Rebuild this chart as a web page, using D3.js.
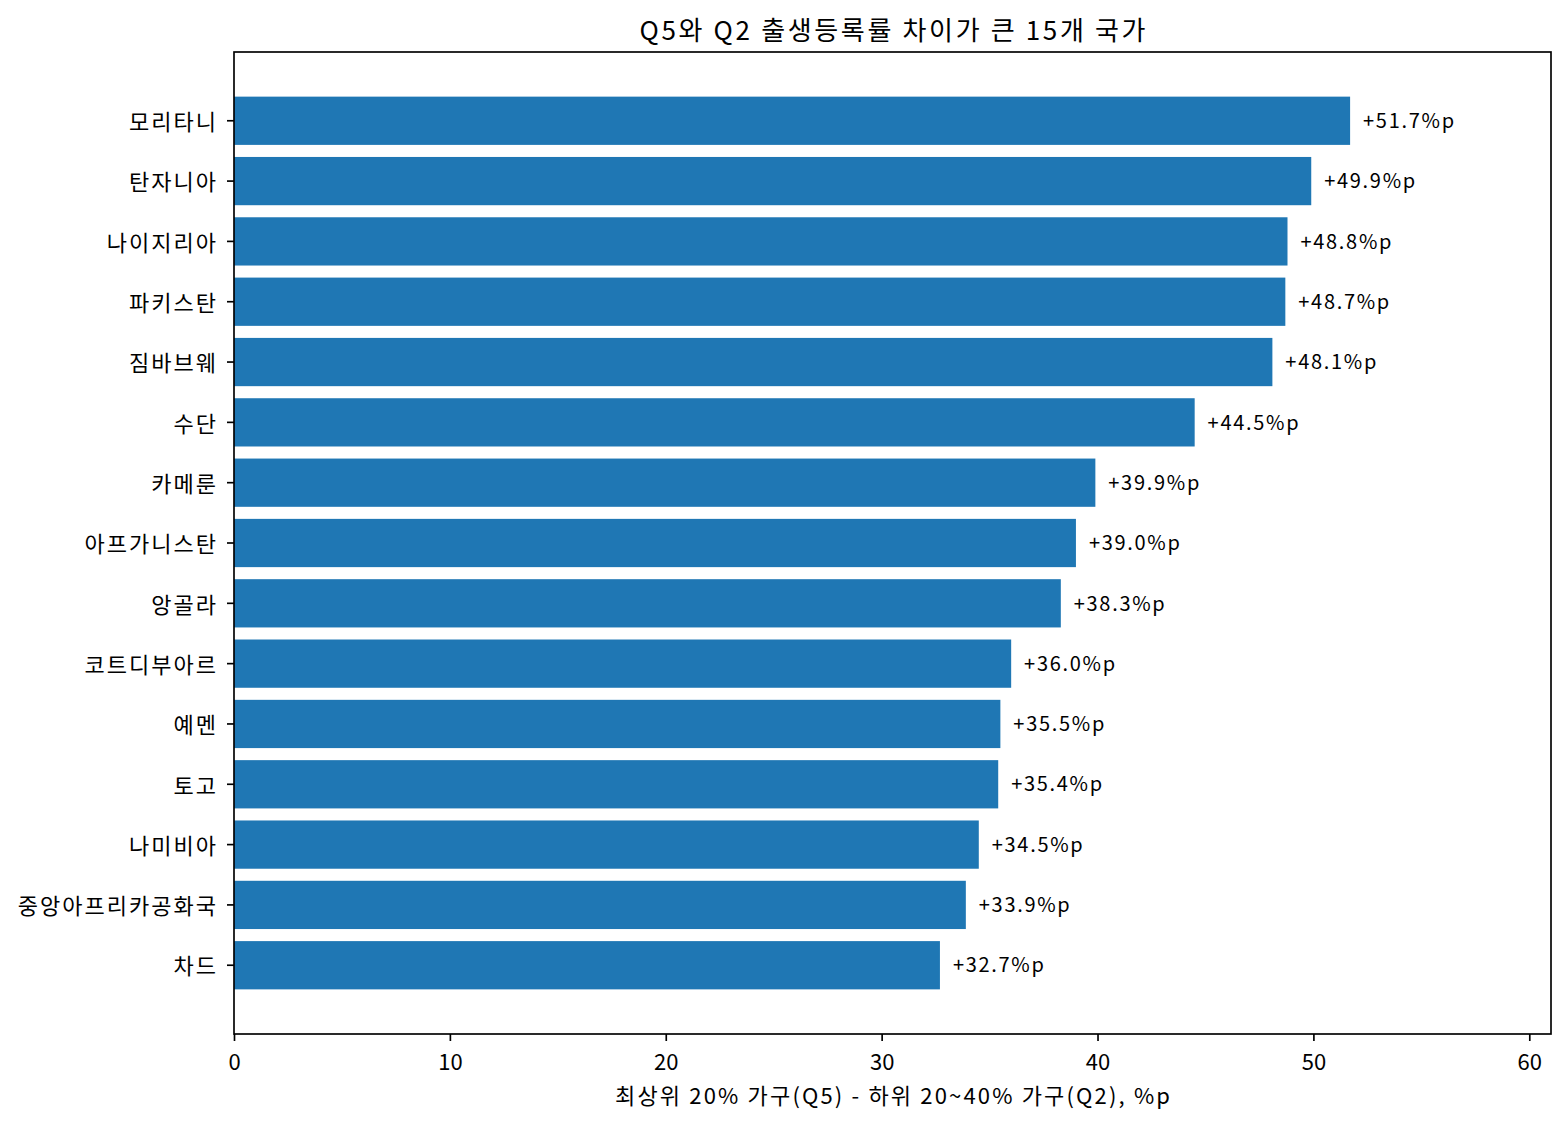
<!DOCTYPE html>
<html>
<head>
<meta charset="utf-8">
<script src="https://cdn.jsdelivr.net/npm/d3@7"></script>
<style>
  html, body { margin: 0; padding: 0; background: #fff; }
  svg text { font-family: "Noto Sans CJK KR", "Noto Sans", sans-serif; fill: #000; }
</style>
</head>
<body>
<svg id="chart" width="1568" height="1124"></svg>
<script>
const countries = ["모리타니","탄자니아","나이지리아","파키스탄","짐바브웨","수단","카메룬","아프가니스탄","앙골라","코트디부아르","예멘","토고","나미비아","중앙아프리카공화국","차드"];
const gaps = [51.7,49.9,48.8,48.7,48.1,44.5,39.9,39.0,38.3,36.0,35.5,35.4,34.5,33.9,32.7];
const xTicks = [0,10,20,30,40,50,60];
const titleText = "Q5와 Q2 출생등록률 차이가 큰 15개 국가";
const xLabelText = "최상위 20% 가구(Q5) - 하위 20~40% 가구(Q2), %p";

const data = countries.map((c, i) => ({country: c, value: gaps[i]}));
const svg = d3.select("#chart");
const L = 234, R = 1551, T = 52, B = 1034;

const x = d3.scaleLinear().domain([0, d3.max(gaps) * 1.18]).range([L, R]);
const y = d3.scaleBand().domain(countries).range([T, B]).paddingInner(0.2).paddingOuter(0.74);

svg.append("g").selectAll("rect").data(data).join("rect")
  .attr("x", x(0))
  .attr("y", d => y(d.country))
  .attr("width", d => x(d.value) - x(0))
  .attr("height", y.bandwidth())
  .attr("fill", "#1f77b4");

svg.append("g").selectAll("text").data(data).join("text")
  .attr("x", d => x(d.value + 0.6))
  .attr("y", d => y(d.country) + y.bandwidth() / 2)
  .attr("dy", "0.36em")
  .attr("font-size", 20)
  .attr("letter-spacing", "1.7px")
  .text(d => "+" + d.value.toFixed(1) + "%p");

// frame
svg.append("rect").attr("x", L).attr("y", T).attr("width", R - L).attr("height", B - T)
  .attr("fill", "none").attr("stroke", "#000").attr("stroke-width", 1.67);

const xAxis = svg.append("g").attr("transform", `translate(0,${B})`)
  .call(d3.axisBottom(x).tickValues(xTicks).tickSize(7).tickPadding(8).tickFormat(d3.format("d")));
const yAxis = svg.append("g").attr("transform", `translate(${L},0)`)
  .call(d3.axisLeft(y).tickSize(7).tickPadding(9));
[xAxis, yAxis].forEach(a => {
  a.select(".domain").remove();
  a.selectAll(".tick line").attr("stroke", "#000").attr("stroke-width", 1.67);
  a.selectAll(".tick text").attr("font-family", null).attr("fill", "#000");
});
xAxis.selectAll(".tick text").attr("font-size", 22).attr("dy", "0.95em");
yAxis.selectAll(".tick text").attr("font-size", 22).attr("letter-spacing", "2px").attr("dy", "0.42em");

svg.append("text").attr("x", (L + R) / 2).attr("y", 40).attr("text-anchor", "middle")
  .attr("font-size", 26).attr("textLength", 506).attr("lengthAdjust", "spacing").text(titleText);
svg.append("text").attr("x", (L + R) / 2).attr("y", 1104).attr("text-anchor", "middle")
  .attr("font-size", 22).attr("textLength", 555).attr("lengthAdjust", "spacing").text(xLabelText);
</script>
</body>
</html>
